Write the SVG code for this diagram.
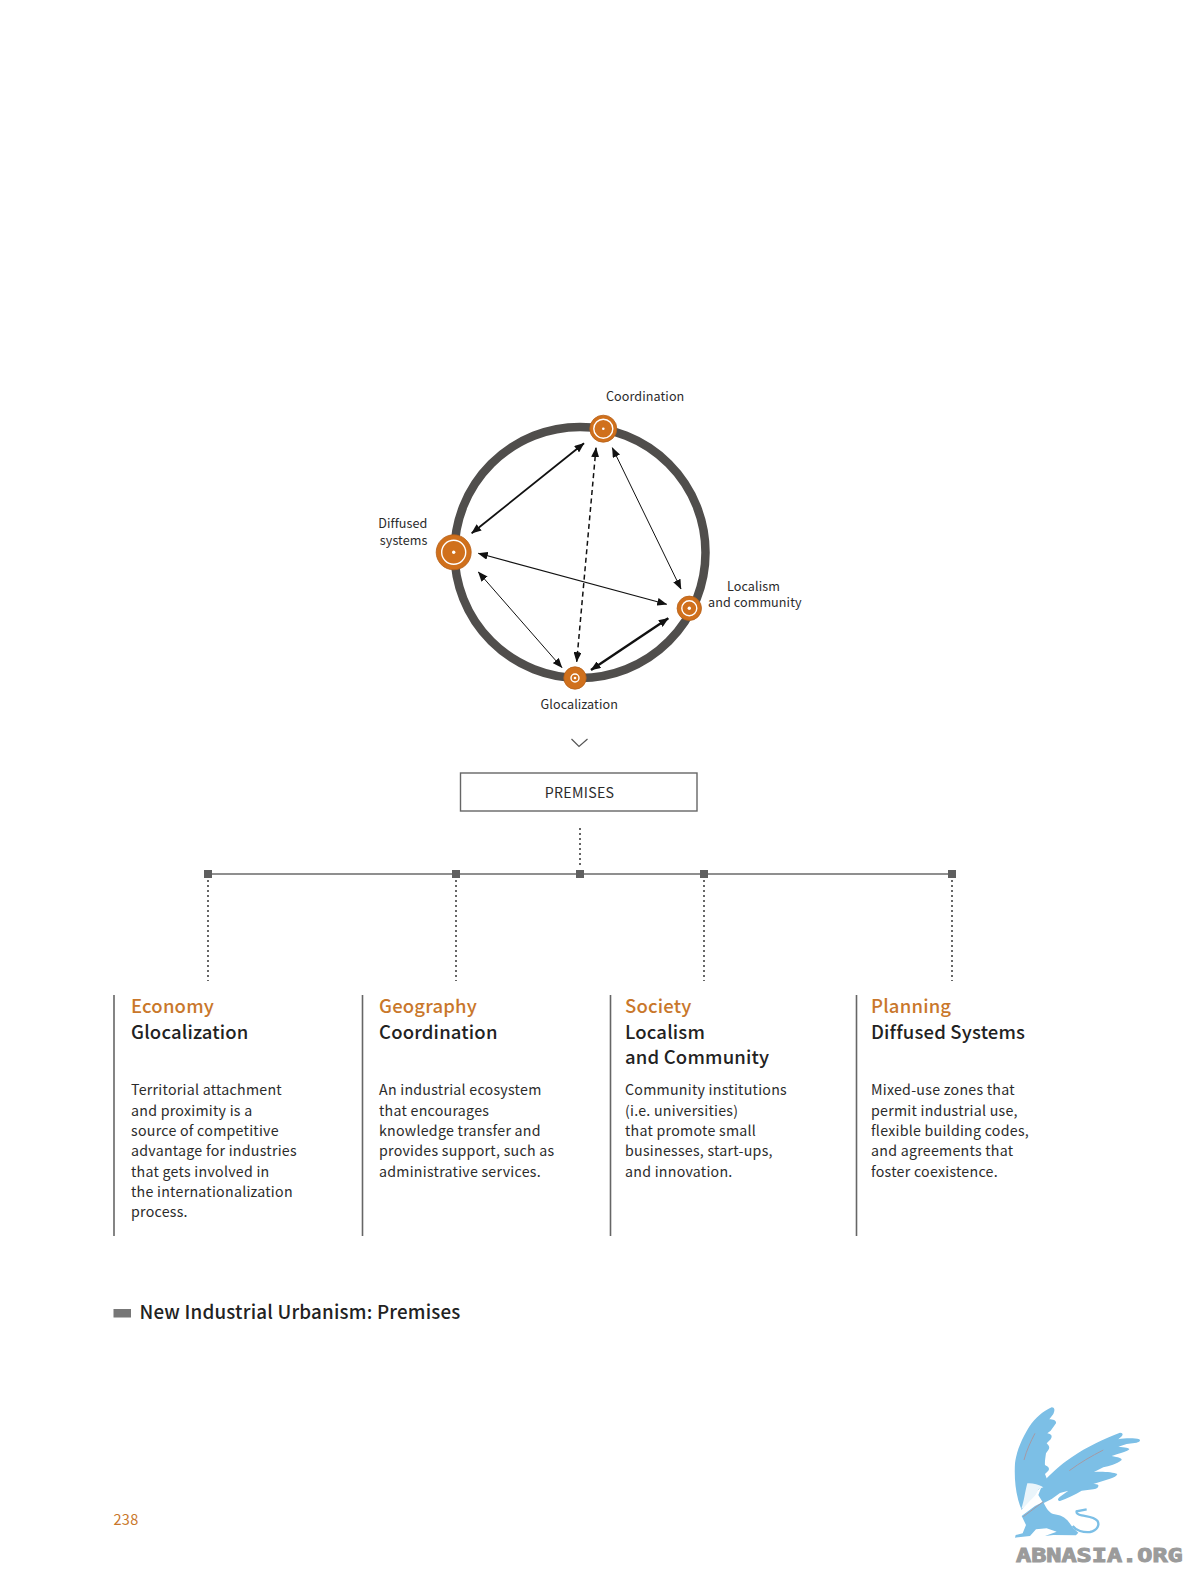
<svg xmlns="http://www.w3.org/2000/svg" width="1188" height="1584" viewBox="0 0 1188 1584">
<style>
text{font-family:"Noto Sans CJK SC","Noto Sans",sans-serif;fill:#222}
.lbl{font-size:12.6px;fill:#2b2b2b;letter-spacing:.08px}
.ttl{font-size:18.5px;font-weight:500;letter-spacing:.18px}
.org{fill:#c9772b}
.body{font-size:14.2px;letter-spacing:.26px;fill:#2b2b2b}
.a{fill:none;stroke:#111;marker-start:url(#ms);marker-end:url(#me)}
.dot{fill:none;stroke:#666;stroke-width:2;stroke-dasharray:2 3}
.bar{stroke:#666;stroke-width:1.6}
.sq{fill:#5f5f5f}
.n{fill:#d0701c;stroke:#b5611a;stroke-width:.8}
.w{fill:none;stroke:#fff;stroke-width:1.4}
.c{fill:#fff}
.g{fill:#7cbfe6}
</style>
<defs>
<marker id="me" viewBox="0 0 10 8" refX="9.5" refY="4" markerUnits="userSpaceOnUse" markerWidth="10" markerHeight="8" orient="auto"><path d="M0 0L10 4L0 8Z" fill="#111"/></marker>
<marker id="ms" viewBox="0 0 10 8" refX="0.5" refY="4" markerUnits="userSpaceOnUse" markerWidth="10" markerHeight="8" orient="auto"><path d="M10 0L0 4L10 8Z" fill="#111"/></marker>
</defs>
<rect width="1188" height="1584" fill="#fff"/>
<circle id="ring" cx="580" cy="552.5" r="125.5" fill="none" stroke="#504e4c" stroke-width="8.500"/>
<g id="connectors">
<path class="a" stroke-width="1.8" d="M584 443.3L471.7 533.3"/>
<path class="a" stroke-width="1.5" stroke-dasharray="5 3.5" d="M596 447.7L576.7 661.7"/>
<path class="a" stroke-width="1" d="M612.3 447.7L681 589"/>
<path class="a" stroke-width="1.1" d="M478.3 553.3L666.7 604.3"/>
<path class="a" stroke-width="1" d="M478.3 572L562 667.7"/>
<path class="a" stroke-width="2.4" d="M668.3 618.3L591 670"/>
<path d="M571.500 739L579 746.500L587.500 739" fill="none" stroke="#555" stroke-width="1.2"/>
<path class="dot" d="M580 828V868"/>
<path d="M208 874H952" stroke="#6a6a6a" stroke-width="1.7"/>
<path class="dot" d="M208 880V981M456 880V981M704 880V981M952 880V981"/>
</g>
<g id="n-coordination"><circle class="n" cx="603.300" cy="428.700" r="13.500"/><circle class="w" cx="603.300" cy="428.700" r="9.500"/><circle class="c" cx="603.300" cy="428.700" r="1.300"/><text class="lbl" x="606" y="401">Coordination</text></g>
<g id="n-diffused"><circle class="n" cx="453.700" cy="552.300" r="17.500"/><circle class="w" cx="453.700" cy="552.300" r="12"/><circle class="c" cx="453.700" cy="552.300" r="1.700"/><text class="lbl" x="427.500" y="528" text-anchor="end">Diffused</text><text class="lbl" x="427.500" y="545" text-anchor="end">systems</text></g>
<g id="n-localism"><circle class="n" cx="689.300" cy="608.300" r="12.200"/><circle class="w" cx="689.300" cy="608.300" r="7.500"/><circle class="c" cx="689.300" cy="608.300" r="1.700"/><text class="lbl" x="727" y="591">Localism</text><text class="lbl" x="708" y="607">and community</text></g>
<g id="n-glocalization"><circle class="n" cx="575" cy="678" r="11.200"/><circle class="w" cx="575" cy="678" r="4"/><circle class="c" cx="575" cy="678" r="1.300"/><text class="lbl" x="540.500" y="709">Glocalization</text></g>
<g id="premises"><rect x="460.500" y="773" width="236.500" height="38" fill="#fff" stroke="#666" stroke-width="1.400"/><text x="579.500" y="797.500" text-anchor="middle" style="font-size:14.200px;fill:#2b2b2b;letter-spacing:.3px">PREMISES</text></g>
<g id="squares"><rect class="sq" x="204" y="870" width="8" height="8"/><rect class="sq" x="452" y="870" width="8" height="8"/><rect class="sq" x="576" y="870" width="8" height="8"/><rect class="sq" x="700" y="870" width="8" height="8"/><rect class="sq" x="948" y="870" width="8" height="8"/></g>
<g id="col-economy"><path class="bar" d="M114 995V1236"/><text class="ttl org" x="131" y="1012.800">Economy</text><text class="ttl" x="131" y="1039">Glocalization</text>
<text class="body"><tspan x="131" y="1094.800">Territorial attachment</tspan><tspan x="131" y="1115.500">and proximity is a</tspan><tspan x="131" y="1135.500">source of competitive</tspan><tspan x="131" y="1156">advantage for industries</tspan><tspan x="131" y="1176.500">that gets involved in</tspan><tspan x="131" y="1196.800">the internationalization</tspan><tspan x="131" y="1217">process.</tspan></text></g>
<g id="col-geography"><path class="bar" d="M362.500 995V1236"/><text class="ttl org" x="379" y="1012.800">Geography</text><text class="ttl" x="379" y="1039">Coordination</text>
<text class="body"><tspan x="379" y="1094.800">An industrial ecosystem</tspan><tspan x="379" y="1115.500">that encourages</tspan><tspan x="379" y="1135.500">knowledge transfer and</tspan><tspan x="379" y="1156">provides support, such as</tspan><tspan x="379" y="1176.500">administrative services.</tspan></text></g>
<g id="col-society"><path class="bar" d="M610.500 995V1236"/><text class="ttl org" x="625" y="1012.800">Society</text><text class="ttl" x="625" y="1039">Localism</text><text class="ttl" x="625" y="1064">and Community</text>
<text class="body"><tspan x="625" y="1094.800">Community institutions</tspan><tspan x="625" y="1115.500">(i.e. universities)</tspan><tspan x="625" y="1135.500">that promote small</tspan><tspan x="625" y="1156">businesses, start-ups,</tspan><tspan x="625" y="1176.500">and innovation.</tspan></text></g>
<g id="col-planning"><path class="bar" d="M856.500 995V1236"/><text class="ttl org" x="871" y="1012.800">Planning</text><text class="ttl" x="871" y="1039">Diffused Systems</text>
<text class="body"><tspan x="871" y="1094.800">Mixed-use zones that</tspan><tspan x="871" y="1115.500">permit industrial use,</tspan><tspan x="871" y="1135.500">flexible building codes,</tspan><tspan x="871" y="1156">and agreements that</tspan><tspan x="871" y="1176.500">foster coexistence.</tspan></text></g>
<g id="caption"><rect x="113.500" y="1309" width="17.500" height="8.500" fill="#777"/><text x="139.500" y="1319" style="font-size:18.800px;font-weight:500;letter-spacing:.2px">New Industrial Urbanism: Premises</text></g>
<text id="page" x="113.500" y="1525" style="font-size:14.500px;fill:#c9772b;letter-spacing:.3px">238</text>
<g id="griffin" transform="translate(1010 1400) scale(.3333)">
<path class="g" d="M35 330C18 290 12 240 15 190C20 150 40 105 65 70C85 45 110 28 125 22C135 22 135 32 130 42L118 58C130 58 140 62 138 70L122 92L112 100C125 102 128 108 122 118L110 130C118 138 120 142 115 150L108 160C106 175 104 185 105 195C115 200 120 205 115 212L105 222L112 240L90 265L60 290Z"/>
<path class="g" d="M85 285L100 245C120 225 150 195 185 172C230 140 285 115 330 98C338 98 340 102 336 108L325 118C345 114 375 114 388 118C392 122 390 126 380 128L350 132L325 140C345 142 358 143 358 148C350 156 330 160 305 168C325 172 336 174 335 180C320 192 298 198 280 202L252 216C275 214 310 216 322 222C320 228 312 233 300 236L250 252C255 252 262 252 265 255C266 262 262 266 250 268L215 272C195 284 170 296 150 303C142 302 142 296 150 290L175 272L150 279L125 297L100 310Z"/>
<path class="g" d="M35 348L75 318L100 305C108 325 118 338 130 342C150 345 165 350 178 368L190 385L205 398L198 406L130 405L105 408L140 395L110 385L78 388L60 408L15 413L17 405L38 400L48 375Z"/>
<path d="M188 378C198 392 220 398 240 396C262 392 270 375 262 362C252 350 235 350 215 346C205 344 198 340 200 334L230 328" fill="none" stroke="#7cbfe6" stroke-width="7"/>
<path d="M34 326C42 305 45 275 52 250C62 248 85 252 100 262L85 268C82 280 72 292 60 302L40 324Z" fill="#eaf5fb"/>
<path d="M40 350L100 305M42 180C50 150 62 125 75 100M178 212C210 188 245 168 280 150" fill="none" stroke="#a59aa5" stroke-width="3"/>
</g>
<text id="logo-text" x="1016" y="1562.300" textLength="166.700" lengthAdjust="spacingAndGlyphs" style="font-family:'DejaVu Sans Mono',monospace;font-weight:700;font-size:20px;fill:#9b9b9b;stroke:#9b9b9b;stroke-width:1">ABNASIA.ORG</text>
</svg>
